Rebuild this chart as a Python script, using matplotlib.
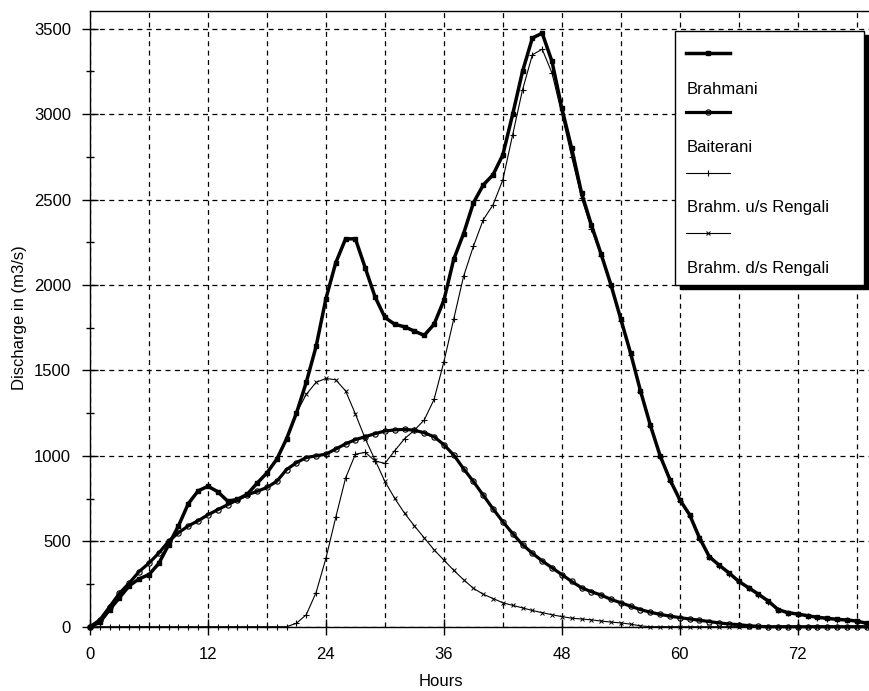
import matplotlib
matplotlib.use("Agg")
import matplotlib.pyplot as plt
from matplotlib.patches import Rectangle
from matplotlib.lines import Line2D
from matplotlib.ticker import MultipleLocator

plt.rcParams['font.family'] = ['Liberation Sans', 'DejaVu Sans']

hours = list(range(0, 80))

brahmani = [0, 25, 100, 170, 240, 280, 305, 370, 480, 590,
            720, 795, 822, 790, 735, 745, 775, 840, 900, 980,
            1100, 1250, 1430, 1640, 1920, 2130, 2270, 2270, 2100, 1930,
            1810, 1770, 1755, 1730, 1705, 1770, 1910, 2150, 2300, 2480,
            2585, 2645, 2762, 3000, 3250, 3445, 3474, 3308, 3035, 2800,
            2540, 2352, 2180, 2000, 1800, 1600, 1380, 1180, 1000, 860,
            743, 655, 520, 410, 360, 315, 265, 228, 190, 150,
            100, 82, 74, 64, 55, 49, 43, 39, 33, 20]

baiterani = [0, 40, 117, 196, 256, 323, 372, 431, 500, 550,
             590, 620, 655, 685, 714, 743, 772, 792, 815, 851,
             920, 960, 990, 1000, 1010, 1040, 1070, 1095, 1112, 1130,
             1145, 1152, 1155, 1150, 1135, 1112, 1065, 1005, 925, 850,
             770, 690, 614, 545, 480, 430, 385, 345, 305, 265,
             228, 205, 185, 160, 140, 120, 100, 85, 72, 62,
             53, 45, 38, 30, 22, 16, 12, 6, 2, 0,
             0, 0, 0, 0, 0, 0, 0, 0, 0, 0]

us_rengali = [0, 0, 0, 0, 0, 0, 0, 0, 0, 0,
              0, 0, 0, 0, 0, 0, 0, 0, 0, 0,
              0, 20, 70, 200, 400, 640, 870, 1010, 1020, 970,
              956, 1030, 1100, 1150, 1210, 1330, 1550, 1800, 2050, 2226,
              2381, 2469, 2616, 2880, 3142, 3347, 3380, 3240, 3000, 2750,
              2510, 2330, 2168, 1992, 1792, 1592, 1372, 1173, 994, 855,
              738, 650, 515, 406, 356, 311, 261, 224, 187, 147,
              98, 80, 72, 62, 53, 47, 41, 37, 31, 18]

ds_rengali = [0, 25, 100, 170, 240, 280, 305, 370, 480, 590,
              720, 795, 822, 790, 735, 745, 775, 840, 900, 980,
              1100, 1250, 1360, 1430, 1453, 1445, 1380, 1245, 1100, 975,
              850, 751, 664, 590, 520, 450, 390, 330, 275, 225,
              190, 165, 140, 125, 110, 95, 82, 70, 59, 50,
              45, 40, 33, 27, 22, 15, 5, 0, 0, 0,
              0, 0, 0, 0, 0, 0, 0, 0, 0, 0,
              0, 0, 0, 0, 0, 0, 0, 0, 0, 0]

labels = ["Brahmani", "Baiterani", "Brahm. u/s Rengali", "Brahm. d/s Rengali"]
x_ticks = [0, 12, 24, 36, 48, 60, 72]
y_ticks = [0, 500, 1000, 1500, 2000, 2500, 3000, 3500]

W, H = 869, 691
fig = plt.figure(figsize=(W / 100, H / 100), dpi=100)
ax = fig.add_axes([90 / W, (H - 626.7) / H, 779 / W, 616 / H])

styles = [
    dict(color='black', lw=2.5, marker='s', ms=2.8, mfc='black', mec='black'),
    dict(color='black', lw=2.3, marker='o', ms=3.8, mfc='none', mec='black', mew=0.8),
    dict(color='black', lw=0.8, marker='+', ms=4.5, mew=0.8),
    dict(color='black', lw=0.8, marker='x', ms=3.0, mew=0.7),
]
series = [brahmani, baiterani, us_rengali, ds_rengali]
order = [2, 3, 1, 0]
for i in order:
    ax.plot(hours, series[i], clip_on=False, zorder=3 + (3 - i) * 0.1, **styles[i])

ax.set_xlim(0, 779 / 9.83)
ax.set_ylim(0, 616 / 0.17086)
ax.set_xticks(x_ticks)
ax.set_xticklabels([str(v) for v in x_ticks])
ax.set_yticks(y_ticks)
ax.set_yticklabels([str(v) for v in y_ticks])
ax.xaxis.set_minor_locator(MultipleLocator(6))
ax.yaxis.set_minor_locator(MultipleLocator(250))

ax.tick_params(axis='both', which='major', direction='inout', length=11.5, width=1,
               labelsize=12, color='black')
ax.tick_params(axis='y', which='major', pad=8)
ax.tick_params(axis='x', which='major', pad=9)
ax.tick_params(axis='y', which='minor', direction='inout', length=6, width=1)
ax.tick_params(axis='x', which='minor', length=0)

for s in ['left', 'bottom', 'top']:
    ax.spines[s].set_linewidth(1.0)
    ax.spines[s].set_color('black')
ax.spines['right'].set_visible(False)

ax.grid(True, which='major', axis='y', color='black', lw=0.9, linestyle=(0, (4, 3.5)))
ax.grid(True, which='both', axis='x', color='black', lw=0.9, linestyle=(0, (4, 3.5)))
ax.set_axisbelow(True)

fig.text(441 / W, 1 - 681 / H, "Hours", ha='center', va='center', fontsize=12)
fig.text(20 / W, 1 - 318 / H, "Discharge in (m3/s)", ha='center', va='center',
         rotation=90, fontsize=12)

# Legend drawn in pixel coordinates on an overlay axes
lax = fig.add_axes([0, 0, 1, 1], zorder=10)
lax.set_xlim(0, W)
lax.set_ylim(H, 0)
lax.axis('off')
lx0, ly0, lx1, ly1 = 675, 30.7, 863.6, 284.7
lax.add_patch(Rectangle((lx0 + 4.5, ly0 + 4.5), lx1 - lx0, ly1 - ly0, facecolor='black',
                        edgecolor='black'))
lax.add_patch(Rectangle((lx0, ly0), lx1 - lx0, ly1 - ly0, facecolor='white',
                        edgecolor='black', lw=1.0))
handle_y = [52.8, 112, 173.4, 232.7]
label_y = [89.7, 147.3, 207.6, 268]
for i in range(4):
    st = dict(styles[i])
    lax.add_line(Line2D([686, 729.6], [handle_y[i]] * 2, color=st['color'], lw=st['lw']))
    mst = {k: v for k, v in st.items() if k not in ('color', 'lw')}
    lax.add_line(Line2D([707.5], [handle_y[i]], color='black', lw=0, **mst))
    lax.text(687, label_y[i], labels[i], ha='left', va='center', fontsize=12)

fig.savefig("out.png", dpi=100, facecolor='white')
